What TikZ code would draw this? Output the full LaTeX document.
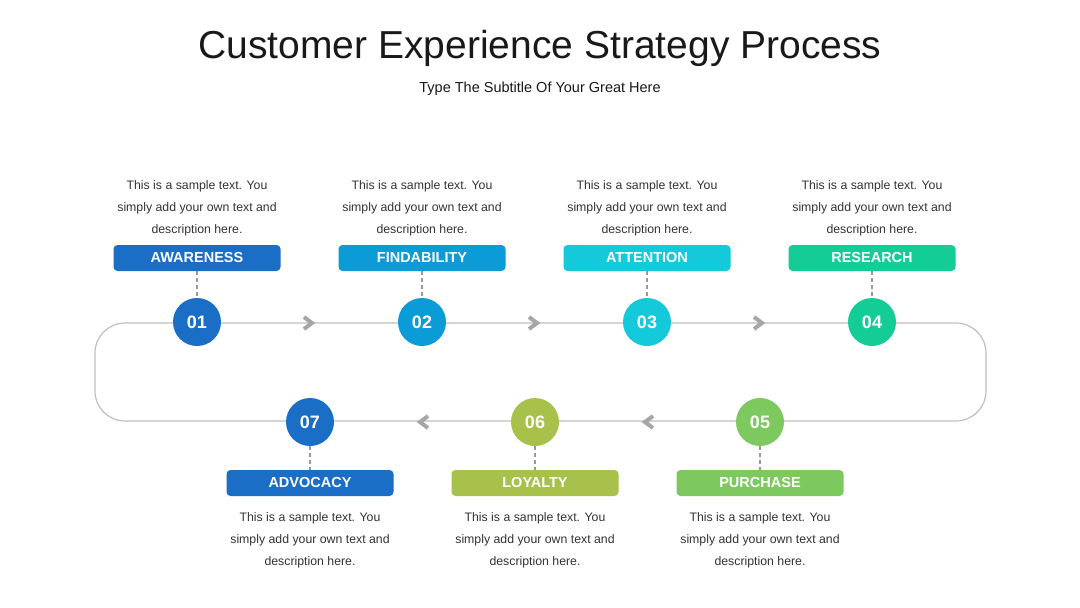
\documentclass[tikz,border=0pt]{standalone}
\usepackage{fontspec}
\setmainfont{Liberation Sans}
\begin{document}
\begin{tikzpicture}[x=1pt,y=-1pt,
  track/.style={draw=black!25, line width=1.2pt},
  chev/.style={draw=black!35, line width=4pt, miter limit=10},
  stepnum/.style={circle, minimum size=48pt, inner sep=0pt, text=white, font=\fontsize{18}{18}\selectfont\bfseries},
  tag/.style={rectangle, rounded corners=4pt, minimum width=167pt, minimum height=26pt, inner sep=0pt, text=white, font=\fontsize{14.5}{14.5}\selectfont\bfseries},
  desc/.style={align=center, text=black!80, font=\fontsize{12.3}{22}\selectfont},
  dashlink/.style={draw=black!40, line width=1.3pt, dash pattern=on 4pt off 3pt}
]
\definecolor{cA}{HTML}{1A6EC6}
\definecolor{cB}{HTML}{0B9BD7}
\definecolor{cC}{HTML}{14C9DA}
\definecolor{cD}{HTML}{14CC96}
\definecolor{cE}{HTML}{7DC95F}
\definecolor{cF}{HTML}{A7C14A}
\definecolor{cG}{HTML}{1A6EC6}
\useasboundingbox[fill=white] (0,0) rectangle (1080,608);

\node[text=black!90, font=\fontsize{39}{39}\selectfont] (title) at (540,48) {Customer Experience Strategy Process};
\node[text=black!90, font=\fontsize{14.5}{14.5}\selectfont] (subtitle) at (540,89) {Type The Subtitle Of Your Great Here};

% track
\draw[track, rounded corners=30pt] (540,323) -- (95,323) -- (95,421) -- (986,421) -- (986,323) -- cycle;

% chevrons
\foreach \x in {310,535,760}{
  \draw[chev] (\x-6,317) -- (\x+2,323) -- (\x-6,329);
}
\foreach \x in {422,647}{
  \draw[chev] (\x+6,416) -- (\x-2,422) -- (\x+6,428);
}

% top steps
\foreach \n/\x/\c/\t in {1/197/cA/AWARENESS, 2/422/cB/FINDABILITY, 3/647/cC/ATTENTION, 4/872/cD/RESEARCH}{
  \node[stepnum, fill=\c] (s\n) at (\x,322) {0\n};
  \node[tag, fill=\c] (t\n) at (\x,258) {\t};
  \node[desc, anchor=north] (d\n) at (\x,177) {This is a sample text. You\\simply add your own text and\\description here.};
  \draw[dashlink] (t\n.south) -- (s\n.north);
}
% bottom steps
\foreach \n/\x/\c/\t in {5/760/cE/PURCHASE, 6/535/cF/LOYALTY, 7/310/cG/ADVOCACY}{
  \node[stepnum, fill=\c] (s\n) at (\x,422) {0\n};
  \node[tag, fill=\c] (t\n) at (\x,483) {\t};
  \node[desc, anchor=north] (d\n) at (\x,509) {This is a sample text. You\\simply add your own text and\\description here.};
  \draw[dashlink] (s\n.south) -- (t\n.north);
}
\end{tikzpicture}
\end{document}
